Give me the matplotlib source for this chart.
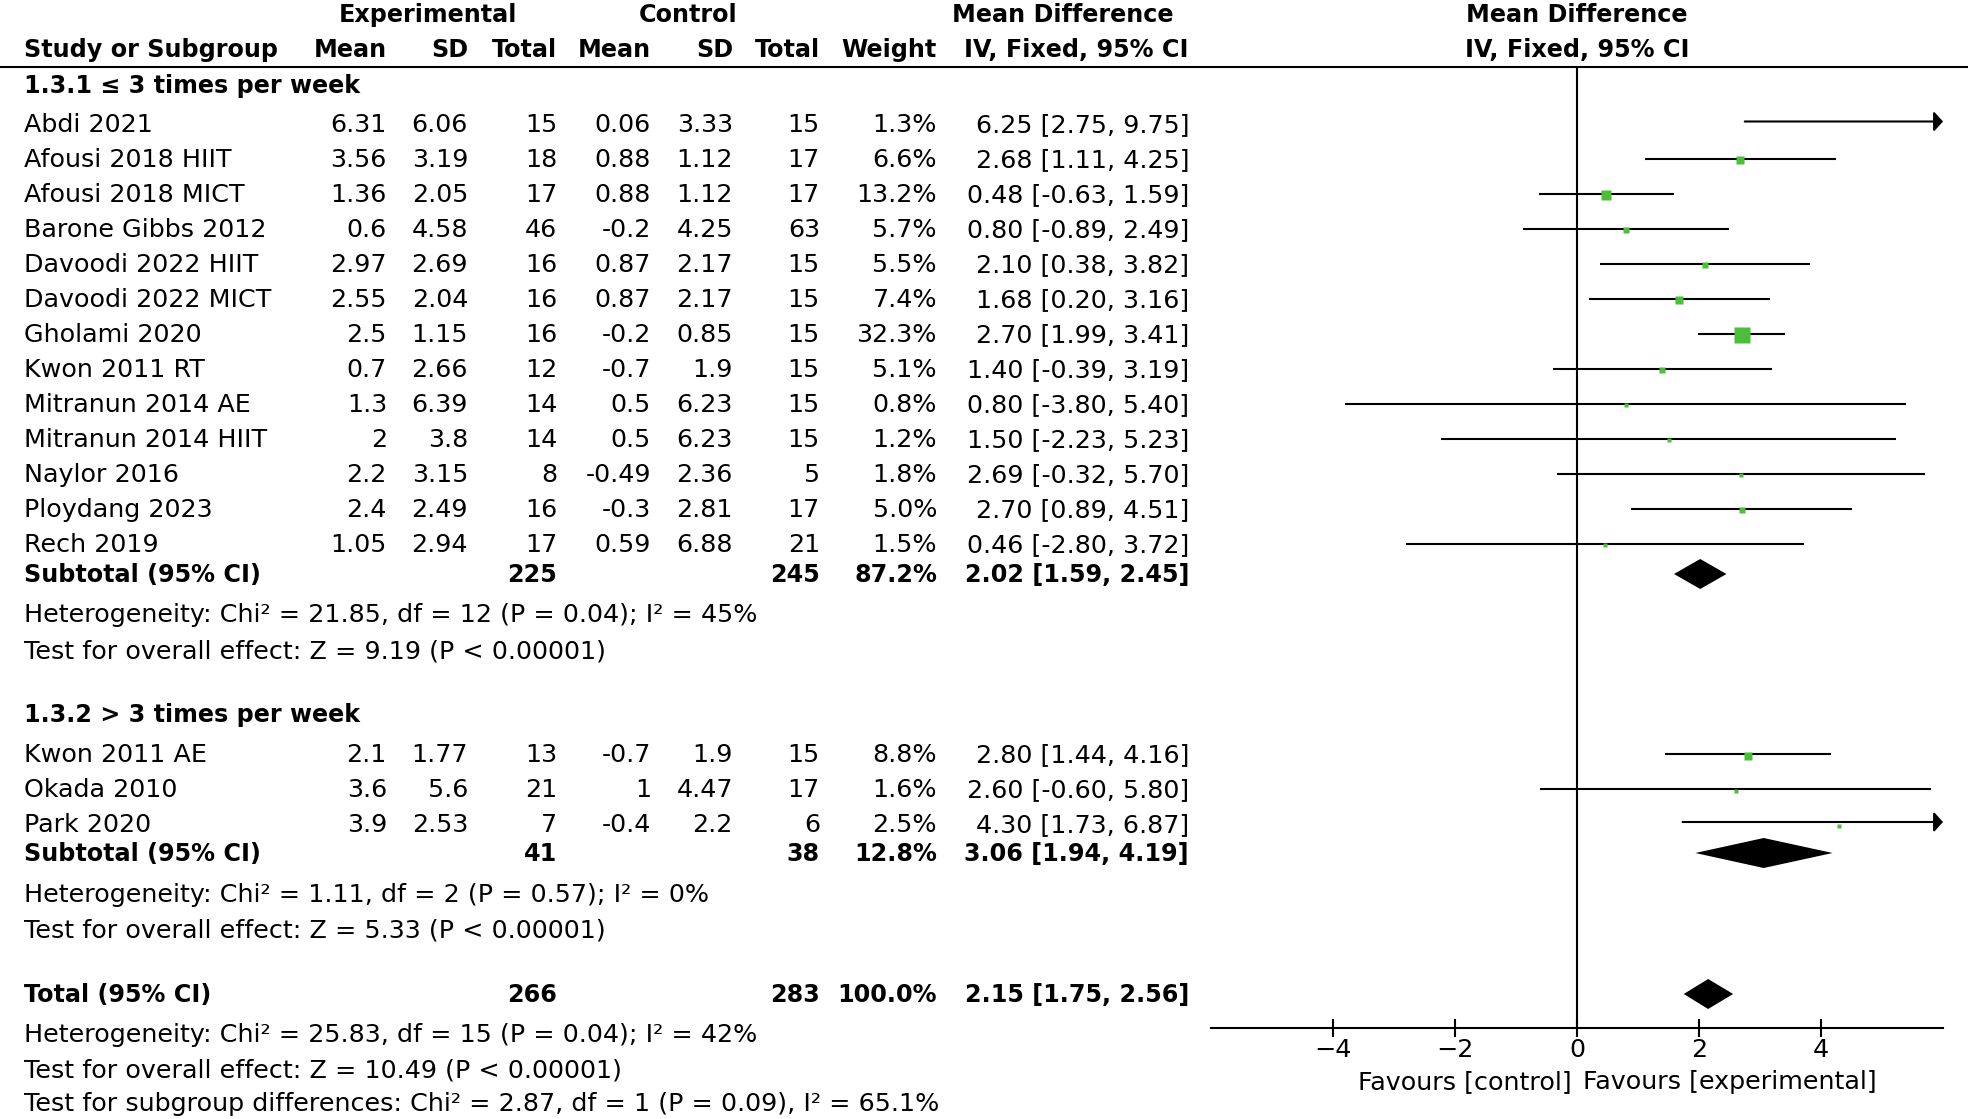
import matplotlib
matplotlib.use("Agg")
import matplotlib.pyplot as plt
import numpy as np

# ---------------- data ----------------
g1_names = ["Abdi 2021", "Afousi 2018 HIIT", "Afousi 2018 MICT", "Barone Gibbs 2012",
            "Davoodi 2022 HIIT", "Davoodi 2022 MICT", "Gholami 2020", "Kwon 2011 RT",
            "Mitranun 2014 AE", "Mitranun 2014 HIIT", "Naylor 2016", "Ploydang 2023", "Rech 2019"]
g1_exp_mean = [6.31, 3.56, 1.36, 0.6, 2.97, 2.55, 2.5, 0.7, 1.3, 2, 2.2, 2.4, 1.05]
g1_exp_sd = [6.06, 3.19, 2.05, 4.58, 2.69, 2.04, 1.15, 2.66, 6.39, 3.8, 3.15, 2.49, 2.94]
g1_exp_n = [15, 18, 17, 46, 16, 16, 16, 12, 14, 14, 8, 16, 17]
g1_ctl_mean = [0.06, 0.88, 0.88, -0.2, 0.87, 0.87, -0.2, -0.7, 0.5, 0.5, -0.49, -0.3, 0.59]
g1_ctl_sd = [3.33, 1.12, 1.12, 4.25, 2.17, 2.17, 0.85, 1.9, 6.23, 6.23, 2.36, 2.81, 6.88]
g1_ctl_n = [15, 17, 17, 63, 15, 15, 15, 15, 15, 15, 5, 17, 21]
g1_weight = [1.3, 6.6, 13.2, 5.7, 5.5, 7.4, 32.3, 5.1, 0.8, 1.2, 1.8, 5.0, 1.5]
g1_md = [6.25, 2.68, 0.48, 0.80, 2.10, 1.68, 2.70, 1.40, 0.80, 1.50, 2.69, 2.70, 0.46]
g1_lo = [2.75, 1.11, -0.63, -0.89, 0.38, 0.20, 1.99, -0.39, -3.80, -2.23, -0.32, 0.89, -2.80]
g1_hi = [9.75, 4.25, 1.59, 2.49, 3.82, 3.16, 3.41, 3.19, 5.40, 5.23, 5.70, 4.51, 3.72]
g1_sub = dict(exp_n=225, ctl_n=245, weight=87.2, md=2.02, lo=1.59, hi=2.45)
g1_title = "1.3.1 \u2264 3 times per week"
g1_het = "Heterogeneity: Chi\u00b2 = 21.85, df = 12 (P = 0.04); I\u00b2 = 45%"
g1_test = "Test for overall effect: Z = 9.19 (P < 0.00001)"

g2_names = ["Kwon 2011 AE", "Okada 2010", "Park 2020"]
g2_exp_mean = [2.1, 3.6, 3.9]
g2_exp_sd = [1.77, 5.6, 2.53]
g2_exp_n = [13, 21, 7]
g2_ctl_mean = [-0.7, 1, -0.4]
g2_ctl_sd = [1.9, 4.47, 2.2]
g2_ctl_n = [15, 17, 6]
g2_weight = [8.8, 1.6, 2.5]
g2_md = [2.80, 2.60, 4.30]
g2_lo = [1.44, -0.60, 1.73]
g2_hi = [4.16, 5.80, 6.87]
g2_sub = dict(exp_n=41, ctl_n=38, weight=12.8, md=3.06, lo=1.94, hi=4.19)
g2_title = "1.3.2 > 3 times per week"
g2_het = "Heterogeneity: Chi\u00b2 = 1.11, df = 2 (P = 0.57); I\u00b2 = 0%"
g2_test = "Test for overall effect: Z = 5.33 (P < 0.00001)"

total = dict(exp_n=266, ctl_n=283, weight=100.0, md=2.15, lo=1.75, hi=2.56)
total_het = "Heterogeneity: Chi\u00b2 = 25.83, df = 15 (P = 0.04); I\u00b2 = 42%"
total_test = "Test for overall effect: Z = 10.49 (P < 0.00001)"
subgroup_test = "Test for subgroup differences: Chi\u00b2 = 2.87, df = 1 (P = 0.09), I\u00b2 = 65.1%"

x_ticks = [-4, -2, 0, 2, 4]
x_limits = (-6, 6)
left_label = "Favours [control]"
right_label = "Favours [experimental]"

# ---------------- layout ----------------
W, H = 1972, 1119
FS = 18.3
FS_B = 17.2
FS_AX = 18.3
GREEN = "#4DBE3A"
BOLD = dict(fontweight="bold", fontsize=FS_B)

plt.rcParams["font.family"] = ["DejaVu Sans"]
fig = plt.figure(figsize=(W / 100, H / 100), dpi=100)
ax_t = fig.add_axes([0, 0, 1, 1])
ax_t.set_xlim(0, W)
ax_t.set_ylim(H, 0)
ax_t.axis("off")

AX_L, AX_R = 1211, 1943
TOP, BOT = 67, 1027.5
ax_f = fig.add_axes([AX_L / W, 1 - BOT / H, (AX_R - AX_L) / W, (BOT - TOP) / H])
ax_f.set_xlim(*x_limits)
ax_f.set_ylim(BOT, TOP)
ax_f.patch.set_alpha(0)

# column right edges
X_NAME = 24
COLS = [387, 468, 557, 651, 733, 820, 937, 1189]
BASE = 8.4  # baseline offset from row centre

def put(x, y, s, ha="right", bold=False, **kw):
    if bold:
        ax_t.text(x, y + BASE - 0.3, s, ha=ha, va="baseline", **BOLD, **kw)
    else:
        ax_t.text(x, y + BASE, s, ha=ha, va="baseline", fontsize=FS, **kw)

# header
put(428, 14, "Experimental", ha="center", bold=True)
put(688, 14, "Control", ha="center", bold=True)
put(1063, 14, "Mean Difference", ha="center", bold=True)
put(X_NAME, 49, "Study or Subgroup", ha="left", bold=True)
for x, s in zip(COLS, ["Mean", "SD", "Total", "Mean", "SD", "Total", "Weight", "IV, Fixed, 95% CI"]):
    put(x, 49, s, bold=True)
ax_f.text(0, 14 + BASE, "Mean Difference", ha="center", va="baseline", clip_on=False, **BOLD)
ax_f.text(0, 49 + BASE, "IV, Fixed, 95% CI", ha="center", va="baseline", clip_on=False, **BOLD)
ax_t.plot([0, 1968], [TOP, TOP], color="black", lw=1.5, solid_capstyle="butt")

ax_f.axvline(0, color="black", lw=1.5)

def fmt_ci(m, lo, hi):
    return f"{m:.2f} [{lo:.2f}, {hi:.2f}]"

def draw_study(y, name, em, es, en, cm, cs, cn, w, md, lo, hi):
    put(X_NAME, y, name, ha="left")
    vals = [f"{em:g}", f"{es:g}", f"{en}", f"{cm:g}", f"{cs:g}", f"{cn}", f"{w:.1f}%", fmt_ci(md, lo, hi)]
    for x, s in zip(COLS, vals):
        put(x, y, s)
    xmin, xmax = x_limits
    l = max(lo, xmin)
    if hi > xmax:
        ax_f.annotate("", xy=(xmax, y - 2), xytext=(l, y - 2),
                      arrowprops=dict(arrowstyle="-|>,head_length=0.45,head_width=0.5",
                                      lw=1.5, color="black", mutation_scale=12,
                                      shrinkA=0, shrinkB=0))
    else:
        ax_f.plot([l, min(hi, xmax)], [y, y], color="black", lw=1.5, solid_capstyle="butt")
    side_px = max(4.5, 15.5 * np.sqrt(w / 32.3))
    ax_f.plot([md], [y + 1.5], marker="s", ls="none", color=GREEN, mec="none",
              markersize=side_px * 0.72, zorder=3)

def draw_summary(y, label, d, half_h=15):
    put(X_NAME, y, label, ha="left", bold=True)
    put(COLS[2], y, f"{d['exp_n']}", bold=True)
    put(COLS[5], y, f"{d['ctl_n']}", bold=True)
    put(COLS[6], y, f"{d['weight']:.1f}%", bold=True)
    put(COLS[7], y, fmt_ci(d["md"], d["lo"], d["hi"]), bold=True)
    ax_f.fill([d["lo"], d["md"], d["hi"], d["md"]], [y, y - half_h, y, y + half_h],
              color="black", lw=0, zorder=3)

STEP = 35.0
# group 1
put(X_NAME, 84.5, g1_title, ha="left", bold=True)
y0 = 123.5
for i in range(len(g1_names)):
    draw_study(y0 + i * STEP, g1_names[i], g1_exp_mean[i], g1_exp_sd[i], g1_exp_n[i],
               g1_ctl_mean[i], g1_ctl_sd[i], g1_ctl_n[i], g1_weight[i], g1_md[i], g1_lo[i], g1_hi[i])
draw_summary(574, "Subtotal (95% CI)", g1_sub)
put(X_NAME, 614, g1_het, ha="left")
put(X_NAME, 650, g1_test, ha="left")

# group 2
put(X_NAME, 714, g2_title, ha="left", bold=True)
y0 = 754
for i in range(len(g2_names)):
    draw_study(y0 + i * STEP, g2_names[i], g2_exp_mean[i], g2_exp_sd[i], g2_exp_n[i],
               g2_ctl_mean[i], g2_ctl_sd[i], g2_ctl_n[i], g2_weight[i], g2_md[i], g2_lo[i], g2_hi[i])
draw_summary(853, "Subtotal (95% CI)", g2_sub)
put(X_NAME, 894, g2_het, ha="left")
put(X_NAME, 929, g2_test, ha="left")

# total
draw_summary(994, "Total (95% CI)", total)
put(X_NAME, 1034, total_het, ha="left")
put(X_NAME, 1069, total_test, ha="left")
put(X_NAME, 1103, subgroup_test, ha="left")

# axis
for s in ["top", "right", "left"]:
    ax_f.spines[s].set_visible(False)
ax_f.spines["bottom"].set_linewidth(1.5)
ax_f.set_yticks([])
ax_f.set_xticks(x_ticks)
ax_f.tick_params(axis="x", direction="inout", length=13, width=1.5, labelsize=FS_AX, pad=1)
ax_f.text(-0.08, 1089, left_label, ha="right", va="baseline", fontsize=FS_AX, clip_on=False)
ax_f.text(0.1, 1089, right_label, ha="left", va="baseline", fontsize=FS_AX, clip_on=False)

fig.savefig("out.png", dpi=100)
